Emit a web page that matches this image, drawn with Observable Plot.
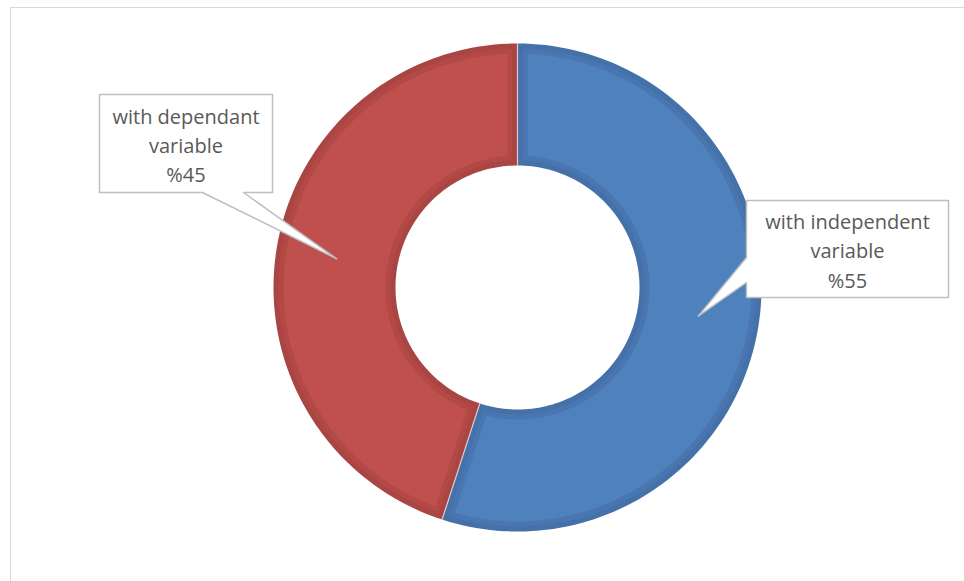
<!DOCTYPE html>
<html>
<head>
<meta charset="utf-8">
<script src="https://cdn.jsdelivr.net/npm/d3@7"></script>
<script src="https://cdn.jsdelivr.net/npm/@observablehq/plot@0.6"></script>
<style>
  html, body { margin: 0; padding: 0; background: #fff; overflow: hidden; }
  #wrap { position: relative; width: 964px; height: 581px; }
  #border { position: absolute; left: 10px; top: 7px; width: 1000px; height: 640px; border: 1.5px solid #d9d9d9; box-sizing: border-box; }
  #chart { position: absolute; left: 0; top: 0; }
</style>
</head>
<body>
<div id="wrap"><div id="border"></div><div id="chart"></div></div>
<script>
// ---- data ----
const categories = ["with independent variable", "with dependant variable"];
const values = [55, 45];
const labelLines = [["with independent", "variable", "%55"], ["with dependant", "variable", "%45"]];

// ---- layout / style ----
const W = 964, H = 581;
const cx = 517, cy = 287, R = 244, r = 122;
const fills = ["#4F81BD", "#C0504D"];
const bevels = ["#4371A8", "#A94643"];
const bevelMid = ["#4976B0", "#B24946"];
// callout boxes: [x0, y0, x1, y1], pointer base side & positions
const boxes = [
  {x0: 746, y0: 200, x1: 948, y1: 297, side: "left", b1: 257, b2: 282},
  {x0: 99, y0: 94, x1: 272, y1: 192, side: "bottom", b1: 202, b2: 243}
];

const pie = d3.pie().sort(null).value(d => d)(values);
const pt = (a, rad) => [cx + rad * Math.sin(a), cy - rad * Math.cos(a)];

function ring(a0, a1, ro, ri, inset) {
  const pts = [];
  const ao0 = a0 + inset / ro, ao1 = a1 - inset / ro;
  const ai0 = a0 + inset / ri, ai1 = a1 - inset / ri;
  const n = 120;
  for (let i = 0; i <= n; i++) pts.push(pt(ao0 + (ao1 - ao0) * i / n, ro));
  for (let i = n; i >= 0; i--) pts.push(pt(ai0 + (ai1 - ai0) * i / n, ri));
  return pts;
}

const polys = [];
pie.forEach((p, i) => {
  ring(p.startAngle, p.endAngle, R, r, 0).forEach(([x, y]) => polys.push({id: "o" + i, x, y, fill: bevels[i]}));
  ring(p.startAngle, p.endAngle, R - 5, r + 5, 5).forEach(([x, y]) => polys.push({id: "m" + i, x, y, fill: bevelMid[i]}));
  ring(p.startAngle, p.endAngle, R - 10, r + 10, 10).forEach(([x, y]) => polys.push({id: "i" + i, x, y, fill: fills[i]}));
});

const seams = [];
pie.forEach((p, i) => {
  [pt(p.startAngle, R), pt(p.startAngle, r)].forEach(([x, y]) => seams.push({id: i, x, y}));
});

const callouts = [];
const texts = [];
pie.forEach((p, i) => {
  const mid = (p.startAngle + p.endAngle) / 2;
  const tip = pt(mid, (R + r) / 2);
  const b = boxes[i];
  let pts;
  if (b.side === "left") {
    pts = [[b.x0, b.y0], [b.x1, b.y0], [b.x1, b.y1], [b.x0, b.y1], [b.x0, b.b2], tip, [b.x0, b.b1]];
  } else {
    pts = [[b.x0, b.y0], [b.x1, b.y0], [b.x1, b.y1], [b.b2, b.y1], tip, [b.b1, b.y1], [b.x0, b.y1]];
  }
  pts.forEach(([x, y]) => callouts.push({id: i, x, y}));
  texts.push({x: (b.x0 + b.x1) / 2, y: (b.y0 + b.y1) / 2, text: labelLines[i].join("\n"), cat: categories[i]});
});

const chart = Plot.plot({
  width: W, height: H,
  margin: 0,
  x: {domain: [0, W], range: [0, W], axis: null},
  y: {domain: [0, H], range: [0, H], axis: null},
  color: {type: "identity"},
  style: {background: "transparent", overflow: "visible"},
  marks: [
    Plot.line(polys, {x: "x", y: "y", z: "id", fill: "fill", stroke: null, curve: "linear-closed"}),
    Plot.line(seams, {x: "x", y: "y", z: "id", stroke: "#f2dede", strokeWidth: 1.2, strokeOpacity: 0.8}),
    Plot.line(callouts, {x: "x", y: "y", z: "id", fill: "white", stroke: "#bfbfbf", strokeWidth: 1.5, curve: "linear-closed"}),
    Plot.text(texts, {x: "x", y: "y", text: "text", fill: "#595959", fontSize: 20, lineHeight: 1.47, fontFamily: "Open Sans", textAnchor: "middle", lineAnchor: "middle"})
  ]
});
document.getElementById("chart").appendChild(chart);
</script>
</body>
</html>
